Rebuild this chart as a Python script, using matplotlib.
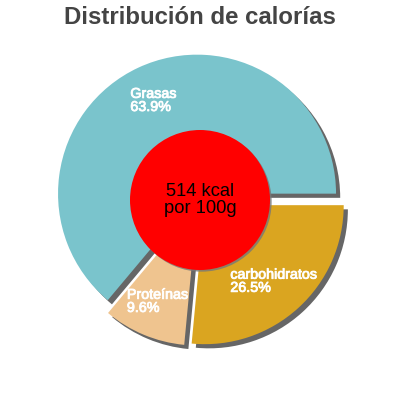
import matplotlib
matplotlib.use('Agg')
import numpy as np
from matplotlib import pyplot as plt
from matplotlib import patheffects as pe
from matplotlib.patches import Circle

plt.rcParams['font.family'] = ['Liberation Sans', 'DejaVu Sans']

title = 'Distribución de calorías'
labels = ['Grasas', 'Proteínas', 'carbohidratos']
values = [63.9, 9.6, 26.5]
colors = ['#7ac4cc', '#efc48f', '#daa520']
center_text = '514 kcal\npor 100g'

fig = plt.figure(figsize=(4, 4), dpi=100)
ax = fig.add_axes([0, 0, 1, 1])

shadow = [pe.SimplePatchShadow(offset=(3, -3), shadow_rgbFace='#666666', alpha=1.0), pe.Normal()]

texts = [f'{l}\n{v}%' for l, v in zip(labels, values)]
wedges, lbls = ax.pie(values, labels=texts, colors=colors, startangle=0, counterclock=True,
                      center=(200, 200), radius=139, explode=[7, 7, 7],
                      labeldistance=0.74, frame=True,
                      wedgeprops=dict(linewidth=0),
                      textprops=dict(color='white', fontsize=10.3))
ax.set_xlim(0, 400)
ax.set_ylim(0, 400)
ax.set_aspect('equal')
ax.axis('off')
for w in wedges:
    w.set_path_effects(shadow)
for t in lbls:
    t.set_ha('center')
    t.set_va('center')
    t.set_multialignment('left')
    t.set_linespacing(0.92)
    t.set_path_effects([pe.withStroke(linewidth=0.6, foreground='white')])

c = Circle((200, 200), 70, facecolor='red', edgecolor='none', zorder=5)
c.set_path_effects([pe.SimplePatchShadow(offset=(1.2, -1.2), shadow_rgbFace='#777777', alpha=0.8), pe.Normal()])
ax.add_patch(c)
ax.text(200, 200, center_text, ha='center', va='center', fontsize=13.2, color='black',
        linespacing=1.0, zorder=6)

fig.text(0.5, 1 - 17 / 400, title, ha='center', va='center', fontsize=17.3,
         fontweight='bold', color='#444444')

fig.savefig('out.png', dpi=100)
